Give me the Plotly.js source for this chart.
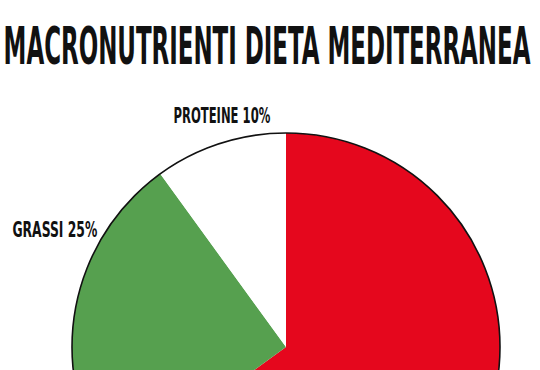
<!DOCTYPE html>
<html><head><meta charset="utf-8">
<script src="https://cdn.plot.ly/plotly-3.0.1.min.js"></script>
<style>html,body{margin:0;padding:0;overflow:hidden;background:#fff}</style>
</head><body><div id="chart" style="width:540px;height:700px"></div>
<script>
// ---- data ----
const categories = ['CARBOIDRATI', 'GRASSI', 'PROTEINE'];
const values = [65, 25, 10];
const sliceColors = ['#e5071d', '#56a04f', '#ffffff'];
const titleText = 'MACRONUTRIENTI DIETA MEDITERRANEA';

// ---- layout helpers (pixels in a 540x700 plot; only top 370 visible) ----
const W = 540, H = 700;
const cx = 286, cy = 347, r = 214;
const dom = { x: [(cx - r) / W, (cx + r) / W], y: [1 - (cy + r) / H, 1 - (cy - r) / H] };
// only the labels visible in the reference crop are drawn
const labelPos = { GRASSI: [54.5, 229.5], PROTEINE: [221.5, 116] };
const labelWidth = { GRASSI: 85, PROTEINE: 97 };
const FONT = "'DejaVu Sans Condensed', 'DejaVu Sans', sans-serif";

const data = [
  {
    type: 'pie', values: values, labels: categories, sort: false,
    direction: 'clockwise', rotation: 0, domain: dom,
    marker: { colors: sliceColors, line: { width: 0 } },
    textinfo: 'none', hoverinfo: 'none', showlegend: false
  },
  {
    type: 'pie', values: [1], labels: ['outline'], sort: false,
    domain: dom,
    marker: { colors: ['rgba(0,0,0,0)'], line: { width: 1.6, color: '#111' } },
    textinfo: 'none', hoverinfo: 'none', showlegend: false
  }
];

const shown = categories.filter(c => labelPos[c]);
const annotations = shown.map(c => ({
  text: c + ' ' + values[categories.indexOf(c)] + '%',
  xref: 'paper', yref: 'paper',
  x: labelPos[c][0] / W, y: 1 - labelPos[c][1] / H,
  xanchor: 'center', yanchor: 'middle', showarrow: false,
  font: { family: FONT, size: 21, color: '#111', weight: 700 }
}));

const layout = {
  width: W, height: H,
  margin: { l: 0, r: 0, t: 0, b: 0 },
  paper_bgcolor: '#fff',
  showlegend: false,
  title: {
    text: titleText, x: 267 / W, xanchor: 'center',
    y: 1 - 46 / H, yanchor: 'middle', yref: 'container',
    font: { family: FONT, size: 52, color: '#111', weight: 700 }
  },
  annotations: annotations
};

function squeeze(el, w) {
  const b = el.getBBox();
  const s = w / b.width;
  const c = b.x + b.width / 2;
  const prev = el.getAttribute('transform') || '';
  el.setAttribute('transform', prev + ' translate(' + c + ',0) scale(' + s + ',1) translate(' + (-c) + ',0)');
}

Plotly.newPlot('chart', data, layout, { staticPlot: true }).then(gd => {
  const t = gd.querySelector('.gtitle');
  if (t) squeeze(t, 527);
  gd.querySelectorAll('.annotation-text').forEach((el, i) => squeeze(el, labelWidth[shown[i]]));
});
</script>
</body></html>
